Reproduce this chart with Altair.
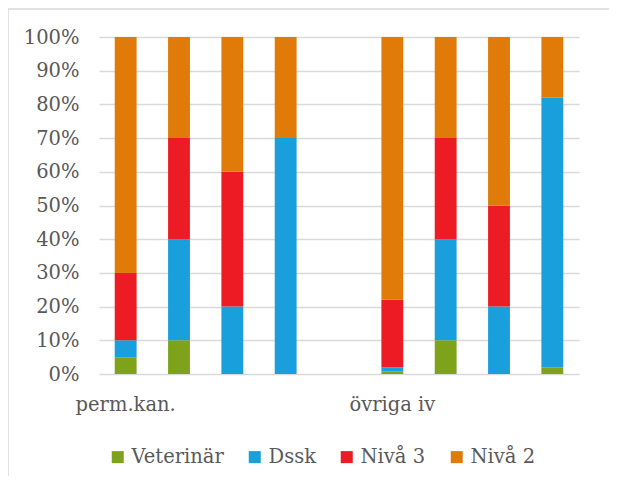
import altair as alt
import pandas as pd

slots = ["g1", "g2", "g3", "g4", "g5", "g6", "g7", "g8", "g9"]
slot_labels = ["perm.kan.", "", "", "", "", "övriga iv", "", "", ""]
series = ["Veterinär", "Dssk", "Nivå 3", "Nivå 2"]
colors = ["#7EA31A", "#199FDB", "#ED1C24", "#E07B0A"]

# percentages per bar (slot g5 is empty)
bar_slots = ["g1", "g2", "g3", "g4", "g6", "g7", "g8", "g9"]
veterinar = [5, 10, 0, 0, 0.7, 10, 0, 2]
dssk = [5, 30, 20, 70, 1.3, 30, 20, 80]
niva3 = [20, 30, 40, 0, 20, 30, 30, 0]
niva2 = [70, 30, 40, 30, 78, 30, 50, 18]

rows = []
for i, s in enumerate(bar_slots):
    for k, (name, vals) in enumerate(zip(series, [veterinar, dssk, niva3, niva2])):
        rows.append({"slot": s, "serie": name, "ord": k, "v": vals[i] / 100})
df = pd.DataFrame(rows)

label_expr = " : ".join(
    f"datum.value == '{s}' ? '{l}'" for s, l in zip(slots, slot_labels) if l
) + " : ''"

FONT = "DejaVu Serif"
GREY = "#595959"
FS = 19.5

bars = alt.Chart(df).mark_bar().encode(
    x=alt.X("slot:N", scale=alt.Scale(domain=slots, paddingInner=0.59, paddingOuter=0.295),
            axis=alt.Axis(title=None, labelExpr=label_expr, labelAngle=0, ticks=False,
                          domain=False, labelPadding=21, labelFontSize=FS,
                          labelColor=GREY, grid=False)),
    y=alt.Y("v:Q", stack="zero", scale=alt.Scale(domain=[0, 1], nice=False),
            axis=alt.Axis(title=None, format=".0%", values=[i / 10 for i in range(11)],
                          ticks=False, domain=False, labelPadding=20,
                          labelFontSize=FS, labelColor=GREY, grid=True,
                          gridColor="#d9d9d9", gridWidth=1.5)),
    color=alt.Color("serie:N", scale=alt.Scale(domain=series, range=colors),
                    legend=alt.Legend(title=None, orient="none", direction="horizontal",
                                      legendX=9, legendY=410, symbolType="square",
                                      symbolSize=144, symbolStrokeWidth=0,
                                      labelFontSize=FS, labelColor=GREY, labelOffset=4,
                                      columnPadding=21)),
    order=alt.Order("ord:Q", sort="ascending"),
)

frame = alt.Chart(alt.Data(values=[{}]))
top_line = frame.mark_rule(color="#d9d9d9", strokeWidth=1.5).encode(
    x=alt.value(-91), x2=alt.value(510), y=alt.value(-28))
left_line = frame.mark_rule(color="#d9d9d9", strokeWidth=1.5).encode(
    x=alt.value(-91), y=alt.value(-28), y2=alt.value(460))

chart = alt.layer(bars, top_line, left_line).properties(
    width=480, height=337,
    autosize=alt.AutoSizeParams(type="none"),
    padding={"left": 91, "top": 29, "right": 30, "bottom": 102},
).configure(background="white", font=FONT).configure_view(stroke=None).configure_axis(
    labelFont=FONT).configure_legend(labelFont=FONT)

chart.save("out.html", embed_options={"renderer": "svg", "actions": False})
